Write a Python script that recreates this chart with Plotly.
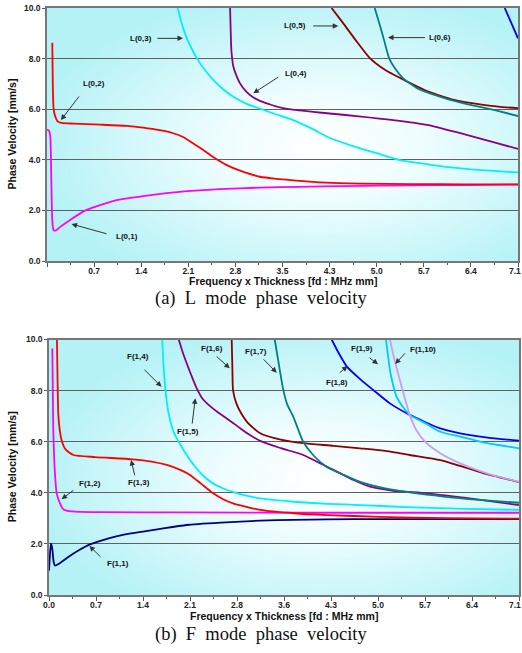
import base64
import plotly.graph_objects as go

# ---------------- data: L modes (top) ----------------
L01_x = [0.0, 0.03, 0.05, 0.065, 0.08, 0.1, 0.13, 0.2, 0.35, 0.57, 0.8, 1.05, 1.45, 1.8, 2.11, 2.6, 3.21, 3.8, 4.5, 5.5, 6.3, 7.1]
L01_y = [5.2, 5.15, 4.9, 3.2, 1.6, 1.22, 1.2, 1.35, 1.62, 1.99, 2.21, 2.41, 2.56, 2.68, 2.76, 2.84, 2.9, 2.93, 2.96, 2.99, 3.0, 3.02]

L02_x = [0.08, 0.085, 0.09, 0.1, 0.12, 0.16, 0.22, 0.4, 0.8, 1.2, 1.45, 1.7, 1.9, 2.05, 2.2, 2.35, 2.46, 2.6, 2.71, 2.9, 3.21, 3.5, 3.71, 4.2, 4.72, 5.5, 6.3, 7.1]
L02_y = [8.63, 7.5, 6.6, 6.0, 5.75, 5.52, 5.46, 5.43, 5.39, 5.34, 5.27, 5.17, 5.05, 4.9, 4.65, 4.4, 4.19, 3.95, 3.79, 3.58, 3.33, 3.24, 3.19, 3.1, 3.06, 3.04, 3.03, 3.03]

L03_x = [1.97, 2.03, 2.1, 2.18, 2.26, 2.38, 2.51, 2.65, 2.81, 3.0, 3.21, 3.45, 3.71, 4.0, 4.22, 4.6, 4.97, 5.32, 5.7, 5.98, 6.5, 7.1]
L03_y = [10.0, 9.4, 8.85, 8.4, 8.01, 7.55, 7.15, 6.8, 6.49, 6.22, 6.02, 5.8, 5.57, 5.22, 4.91, 4.55, 4.26, 3.99, 3.84, 3.73, 3.6, 3.5]

L04_x = [2.76, 2.77, 2.78, 2.81, 2.86, 2.91, 3.0, 3.1, 3.21, 3.35, 3.51, 3.8, 4.22, 4.7, 5.22, 5.73, 6.23, 6.7, 7.1]
L04_y = [10.0, 9.0, 8.3, 7.68, 7.3, 7.02, 6.7, 6.48, 6.33, 6.2, 6.07, 5.95, 5.84, 5.72, 5.57, 5.38, 5.05, 4.72, 4.43]

L05_x = [4.29, 4.45, 4.65, 4.87, 5.1, 5.43, 5.7, 5.98, 6.2, 6.48, 6.8, 7.1]
L05_y = [10.0, 9.45, 8.74, 8.01, 7.55, 7.09, 6.75, 6.49, 6.33, 6.21, 6.1, 6.04]

L06_x = [4.94, 5.02, 5.08, 5.16, 5.25, 5.37, 5.6, 5.98, 6.3, 6.73, 7.1]
L06_y = [10.0, 9.3, 8.74, 8.0, 7.6, 7.22, 6.8, 6.45, 6.22, 5.97, 5.73]

L07_x = [6.9, 7.0, 7.1]
L07_y = [10.0, 9.4, 8.8]

# ---------------- data: F modes (bottom) ----------------
F11_x = [0.0, 0.015, 0.03, 0.05, 0.07, 0.09, 0.15, 0.27, 0.45, 0.62, 0.9, 1.15, 1.42, 1.75, 2.08, 2.6, 3.19, 3.7, 4.19, 5.0, 6.0, 7.1]
F11_y = [0.95, 1.6, 2.02, 1.8, 1.3, 1.15, 1.22, 1.45, 1.75, 1.98, 2.22, 2.37, 2.48, 2.62, 2.74, 2.83, 2.91, 2.94, 2.96, 2.97, 2.97, 2.97]

F12_x = [0.05, 0.056, 0.065, 0.09, 0.116, 0.166, 0.22, 0.35, 0.77, 2.0, 4.0, 7.1]
F12_y = [9.65, 8.4, 6.46, 4.76, 3.98, 3.59, 3.35, 3.27, 3.24, 3.23, 3.22, 3.22]

F13_x = [0.12, 0.13, 0.14, 0.16, 0.19, 0.25, 0.37, 0.7, 1.27, 1.55, 1.78, 2.0, 2.13, 2.3, 2.48, 2.63, 2.78, 3.0, 3.19, 3.7, 4.19, 5.0, 6.0, 7.1]
F13_y = [10.0, 8.3, 7.11, 6.5, 6.07, 5.7, 5.48, 5.4, 5.31, 5.22, 5.09, 4.88, 4.7, 4.35, 3.98, 3.75, 3.59, 3.44, 3.33, 3.2, 3.13, 3.06, 3.01, 2.99]

F14_x = [1.71, 1.73, 1.76, 1.8, 1.88, 1.98, 2.1, 2.22, 2.35, 2.5, 2.65, 2.8, 3.0, 3.19, 3.7, 4.2, 4.7, 5.5, 6.3, 7.1]
F14_y = [10.0, 9.0, 8.0, 7.2, 6.4, 5.9, 5.4, 4.98, 4.62, 4.33, 4.15, 4.02, 3.88, 3.78, 3.65, 3.57, 3.52, 3.43, 3.37, 3.33]

F15_x = [1.96, 2.02, 2.08, 2.15, 2.23, 2.32, 2.42, 2.55, 2.7, 2.85, 3.0, 3.19, 3.5, 3.84, 4.1, 4.35, 4.6, 4.85, 5.2, 5.71, 6.3, 7.1]
F15_y = [10.0, 9.5, 9.07, 8.6, 8.1, 7.68, 7.42, 7.15, 6.88, 6.6, 6.32, 6.03, 5.75, 5.48, 5.15, 4.83, 4.5, 4.24, 4.08, 3.98, 3.8, 3.52]

F16_x = [2.76, 2.77, 2.78, 2.83, 2.89, 3.0, 3.19, 3.5, 3.84, 4.3, 4.7, 5.1, 5.45, 5.91, 6.21, 6.56, 7.1]
F16_y = [10.0, 8.9, 8.02, 7.5, 7.17, 6.75, 6.33, 6.08, 5.94, 5.84, 5.74, 5.63, 5.48, 5.28, 5.05, 4.77, 4.42]

F17_x = [3.41, 3.48, 3.54, 3.6, 3.69, 3.84, 4.0, 4.19, 4.45, 4.7, 5.2, 5.96, 6.5, 7.1]
F17_y = [10.0, 8.9, 8.02, 7.45, 6.98, 6.0, 5.45, 5.02, 4.7, 4.43, 4.11, 3.85, 3.72, 3.61]

F18_x = [4.27, 4.38, 4.5, 4.7, 4.9, 5.15, 5.45, 5.91, 6.21, 6.6, 7.1]
F18_y = [10.0, 9.45, 8.94, 8.45, 8.02, 7.5, 7.05, 6.52, 6.33, 6.17, 6.04]

F19_x = [5.09, 5.12, 5.15, 5.2, 5.25, 5.35, 5.45, 5.7, 5.91, 6.21, 6.6, 7.1]
F19_y = [10.0, 9.4, 8.8, 8.2, 7.76, 7.35, 7.05, 6.7, 6.39, 6.2, 5.95, 5.74]

F110_x = [5.15, 5.22, 5.3, 5.38, 5.45, 5.55, 5.7, 5.91, 6.21, 6.41, 6.71, 7.1]
F110_y = [10.0, 9.2, 8.41, 7.65, 7.05, 6.45, 5.95, 5.55, 5.15, 4.95, 4.68, 4.43]

# ---------------- tick labels ----------------
x_tickvals = [0.0, 0.71, 1.42, 2.13, 2.84, 3.55, 4.26, 4.97, 5.68, 6.39, 7.1]
x_ticktext_L = ["", "0.7", "1.4", "2.1", "2.8", "3.5", "4.3", "5.0", "5.7", "6.4", ""]
x_ticktext_F = ["0.0", "0.7", "1.4", "2.1", "2.8", "3.6", "4.3", "5.0", "5.7", "6.4", ""]
x_last_label = "7.1"   # drawn flush with the right edge so it is not cut off
x_minor = [0.355, 1.065, 1.775, 2.485, 3.195, 3.905, 4.615, 5.325, 6.035, 6.745]
y_tickvals = [0, 2, 4, 6, 8, 10]
y_ticktext = ["0.0", "2.0", "4.0", "6.0", "8.0", "10.0"]

# ---------------- label annotations (text pos, arrow tail, arrow head) ----------------
L_labels = [
    ("L(0,1)", 1.20, 0.96, 0.92, 1.06, 0.37, 1.46),
    ("L(0,2)", 0.71, 7.02, 0.50, 6.56, 0.21, 5.57),
    ("L(0,3)", 1.42, 8.80, 1.64, 8.80, 2.05, 8.80),
    ("L(0,4)", 3.76, 7.42, 3.51, 7.31, 3.11, 6.63),
    ("L(0,5)", 3.74, 9.29, 3.99, 9.29, 4.39, 9.29),
    ("L(0,6)", 5.92, 8.83, 5.72, 8.83, 5.14, 8.83),
]
F_labels = [
    ("F(1,1)", 1.04, 1.24, 0.80, 1.44, 0.61, 1.92),
    ("F(1,2)", 0.62, 4.37, 0.39, 4.14, 0.19, 3.75),
    ("F(1,3)", 1.36, 4.41, 1.30, 4.63, 1.24, 5.28),
    ("F(1,4)", 1.34, 9.35, 1.42, 8.87, 1.70, 8.15),
    ("F(1,5)", 2.10, 6.39, 2.16, 6.65, 2.21, 7.70),
    ("F(1,6)", 2.46, 9.63, 2.51, 9.39, 2.73, 8.87),
    ("F(1,7)", 3.13, 9.55, 3.22, 9.28, 3.44, 8.70),
    ("F(1,8)", 4.35, 8.31, 4.37, 8.65, 4.51, 8.96),
    ("F(1,9)", 4.73, 9.63, 4.82, 9.33, 4.97, 9.03),
    ("F(1,10)", 5.65, 9.59, 5.40, 9.52, 5.23, 9.04),
]

L_series = [
    (L01_x, L01_y, "#ff00ff"), (L02_x, L02_y, "#ff0000"), (L03_x, L03_y, "#00eeff"),
    (L04_x, L04_y, "#880088"), (L05_x, L05_y, "#8b0000"), (L06_x, L06_y, "#008080"),
    (L07_x, L07_y, "#0000ff"),
]
F_series = [
    (F11_x, F11_y, "#000080"), (F12_x, F12_y, "#ff00ff"), (F13_x, F13_y, "#ff0000"),
    (F14_x, F14_y, "#00eeff"), (F15_x, F15_y, "#880088"), (F16_x, F16_y, "#8b0000"),
    (F17_x, F17_y, "#008080"), (F18_x, F18_y, "#0000ff"), (F19_x, F19_y, "#00c8ff"),
    (F110_x, F110_y, "#cc99ff"),
]

W, H = 522, 653
TOP = dict(x0=47, x1=518, y0=8, y1=261)
BOT = dict(x0=49, x1=519, y0=339.5, y1=595)


def xdom(b):
    return [b["x0"] / W, b["x1"] / W]


def ydom(b):
    return [(H - b["y1"]) / H, (H - b["y0"]) / H]


fig = go.Figure()
for xs, ys, c in L_series:
    fig.add_trace(go.Scatter(x=xs, y=ys, mode="lines", xaxis="x", yaxis="y",
                             line=dict(color=c, width=1.8, shape="spline", smoothing=0.6),
                             showlegend=False, hoverinfo="skip"))
for xs, ys, c in F_series:
    fig.add_trace(go.Scatter(x=xs, y=ys, mode="lines", xaxis="x2", yaxis="y2",
                             line=dict(color=c, width=1.8, shape="spline", smoothing=0.6),
                             showlegend=False, hoverinfo="skip"))

tickfont = dict(family="Liberation Sans", size=8.5, color="#222222", weight="bold")
axis_common = dict(showline=True, mirror=True, linecolor="#777777", linewidth=1.5,
                   ticks="outside", tickcolor="#555555", tickfont=tickfont, zeroline=False,
                   automargin=False, ticklabeloverflow="allow")

xa = dict(axis_common, range=[0, 7.1], tickmode="array", tickvals=x_tickvals, showgrid=False,
          ticklen=4, ticklabelstandoff=-3,
          minor=dict(tickmode="array", tickvals=x_minor, ticks="outside", ticklen=2,
                     tickcolor="#555555"))
ya = dict(axis_common, range=[0, 10], tickmode="array", tickvals=y_tickvals, ticktext=y_ticktext,
          showgrid=True, gridcolor="#606060", gridwidth=1.3, ticklen=3)

fig.update_layout(
    width=W, height=H, autosize=False,
    margin=dict(l=0, r=0, t=0, b=0, pad=0, autoexpand=False),
    paper_bgcolor="white", plot_bgcolor="rgba(0,0,0,0)",
    xaxis=dict(xa, domain=xdom(TOP), anchor="y", ticktext=x_ticktext_L),
    yaxis=dict(ya, domain=ydom(TOP), anchor="x"),
    xaxis2=dict(xa, domain=xdom(BOT), anchor="y2", ticktext=x_ticktext_F),
    yaxis2=dict(ya, domain=ydom(BOT), anchor="x2"),
    font=dict(family="Liberation Sans"),
)

# gradient backgrounds (radial, white centre -> light cyan edges)
svg = ('<svg xmlns="http://www.w3.org/2000/svg" width="400" height="200" viewBox="0 0 400 200" '
       'preserveAspectRatio="none"><defs><radialGradient id="g" cx="58%" cy="55%" r="62%">'
       '<stop offset="0%" stop-color="#ffffff"/><stop offset="35%" stop-color="#eefdfe"/>'
       '<stop offset="100%" stop-color="#b4f2f6"/></radialGradient></defs>'
       '<rect width="400" height="200" fill="url(#g)"/></svg>')
src = "data:image/svg+xml;base64," + base64.b64encode(svg.encode()).decode()
for b in (TOP, BOT):
    xd, yd = xdom(b), ydom(b)
    fig.add_layout_image(dict(source=src, xref="paper", yref="paper", x=xd[0], y=yd[1],
                              sizex=xd[1] - xd[0], sizey=yd[1] - yd[0], sizing="stretch",
                              xanchor="left", yanchor="top", layer="below"))

labfont = dict(family="Liberation Sans", size=8, color="#111111", weight="bold")
for labels, xr, yr in ((L_labels, "x", "y"), (F_labels, "x2", "y2")):
    for t, tx, ty, ax, ay, hx, hy in labels:
        fig.add_annotation(x=tx, y=ty, xref=xr, yref=yr, text=t, showarrow=False, font=labfont,
                           xanchor="center", yanchor="middle")
        fig.add_annotation(x=hx, y=hy, xref=xr, yref=yr, ax=ax, ay=ay, axref=xr, ayref=yr,
                           text="", showarrow=True, arrowhead=2, arrowsize=1.1, arrowwidth=1,
                           arrowcolor="#333333")

titlefont = dict(family="Liberation Sans", size=10.5, color="#111111")
capfont = dict(family="Liberation Serif", size=18.5, color="#111111")
xt = "<b>Frequency x Thickness [fd : MHz mm]</b>"
yt = "<b>Phase Velocity [mm/s]</b>"
for b, cap, ty, cy, ly in ((TOP, "(a)\u00a0 L\u00a0 mode\u00a0 phase\u00a0 velocity", 280.5, 298.5, 270.5),
                           (BOT, "(b)\u00a0 F\u00a0 mode\u00a0 phase\u00a0 velocity", 615.5, 634, 605)):
    cx = (b["x0"] + b["x1"]) / 2
    fig.add_annotation(x=cx / W, y=1 - ty / H, xref="paper", yref="paper", text=xt,
                       showarrow=False, font=titlefont, xanchor="center", yanchor="middle")
    fig.add_annotation(x=12 / W, y=1 - ((b["y0"] + b["y1"]) / 2) / H, xref="paper", yref="paper",
                       text=yt, textangle=-90, showarrow=False, font=titlefont,
                       xanchor="center", yanchor="middle")
    fig.add_annotation(x=261 / W, y=1 - cy / H, xref="paper", yref="paper", text=cap,
                       showarrow=False, font=capfont, xanchor="center", yanchor="middle")
    fig.add_annotation(x=521.5 / W, y=1 - ly / H, xref="paper", yref="paper", text=x_last_label,
                       showarrow=False, font=tickfont, xanchor="right", yanchor="middle",
                       borderpad=0)

fig.write_html("out.html", config={"displayModeBar": False},
               post_script="document.body.style.margin='0';document.body.style.overflow='hidden';")
